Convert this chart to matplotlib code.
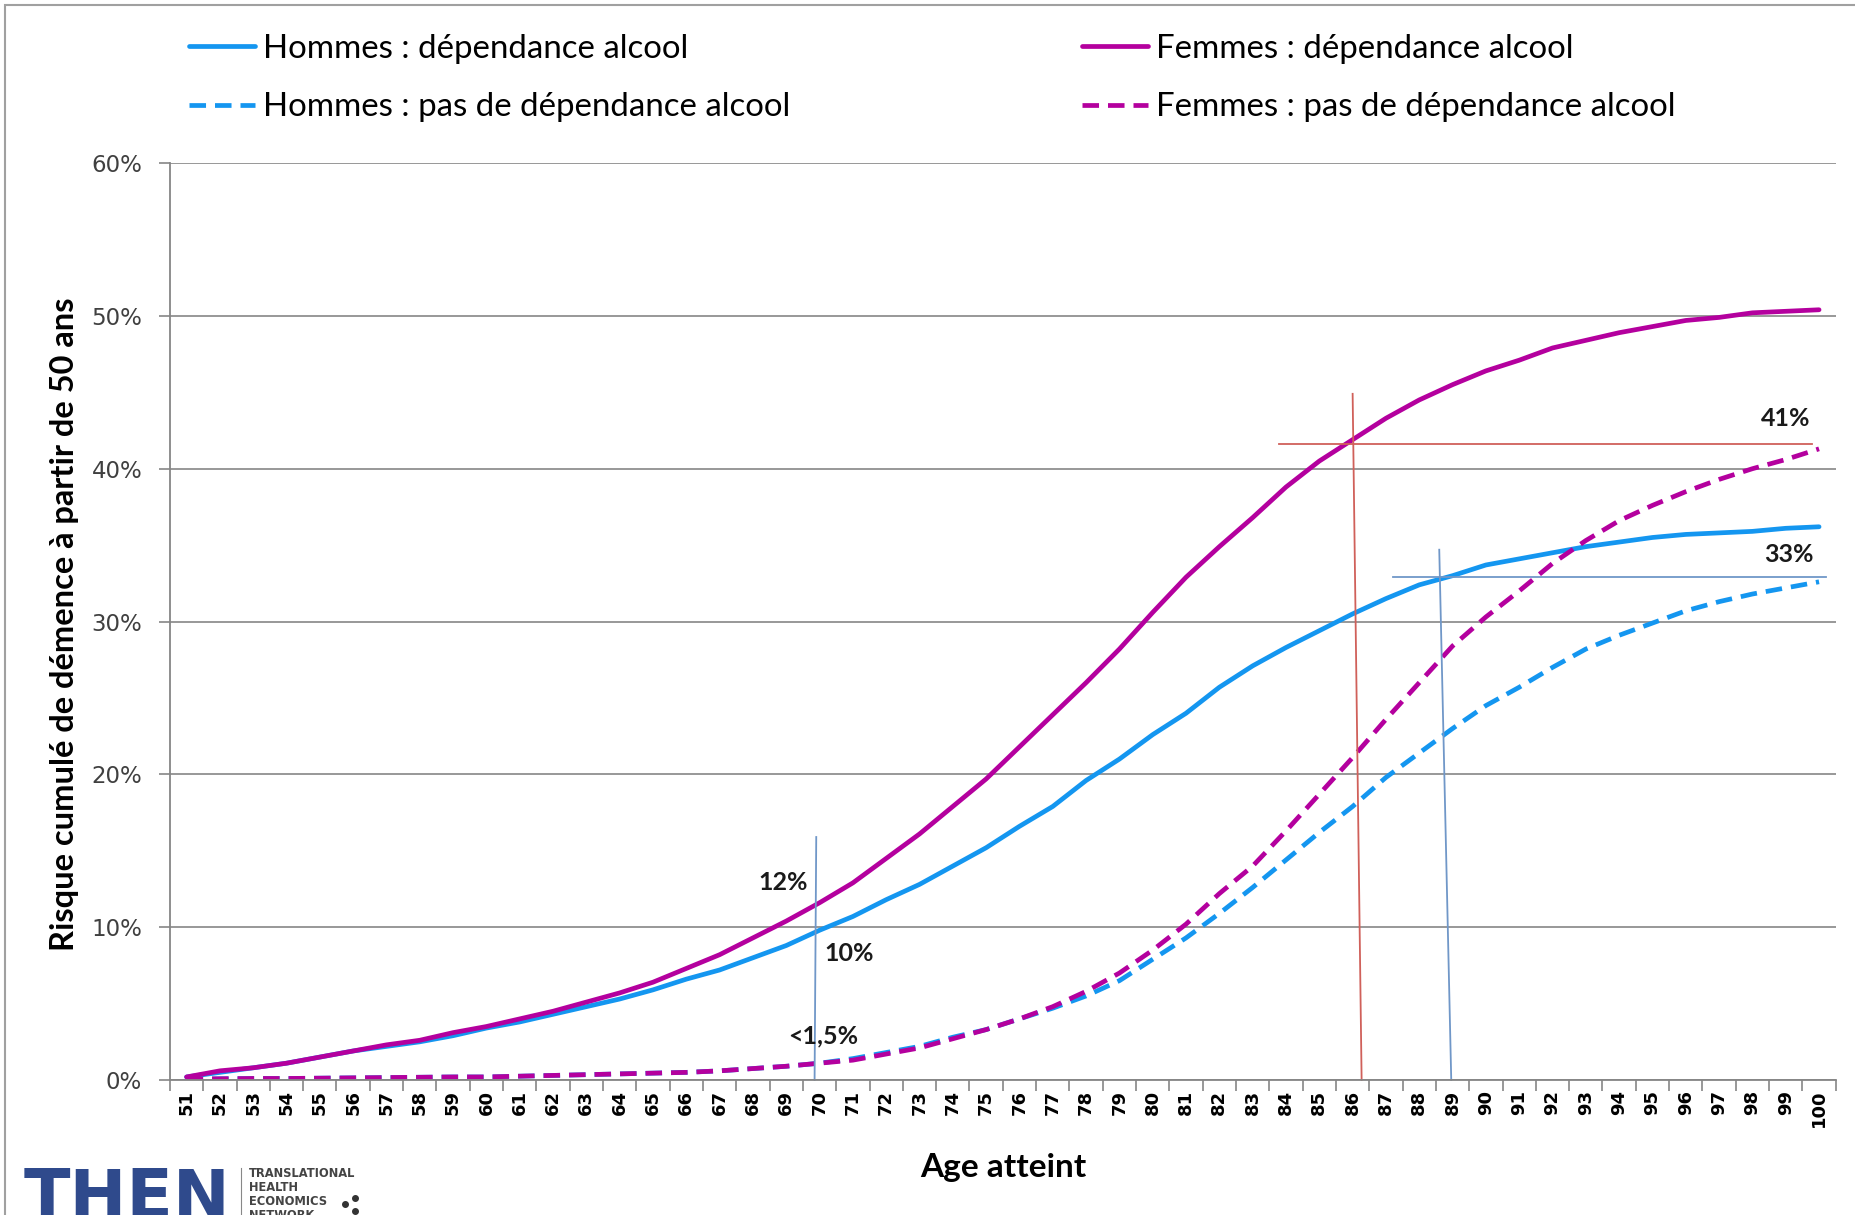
import matplotlib.pyplot as plt
from matplotlib.lines import Line2D
from matplotlib.patches import Rectangle

# data (percent)
ages = list(range(51, 101))
hommes_dep = [0.2, 0.5, 0.8, 1.1, 1.5, 1.9, 2.2, 2.5, 2.9, 3.4,
              3.8, 4.3, 4.8, 5.3, 5.9, 6.6, 7.2, 8.0, 8.8, 9.8,
              10.7, 11.8, 12.8, 14.0, 15.2, 16.6, 17.9, 19.6, 21.0, 22.6,
              24.0, 25.7, 27.1, 28.3, 29.4, 30.5, 31.5, 32.4, 33.0, 33.7,
              34.1, 34.5, 34.9, 35.2, 35.5, 35.7, 35.8, 35.9, 36.1, 36.2]
femmes_dep = [0.2, 0.6, 0.8, 1.1, 1.5, 1.9, 2.3, 2.6, 3.1, 3.5,
              4.0, 4.5, 5.1, 5.7, 6.4, 7.3, 8.2, 9.3, 10.4, 11.6,
              12.9, 14.5, 16.1, 17.9, 19.7, 21.8, 23.9, 26.0, 28.2, 30.6,
              32.9, 34.9, 36.8, 38.8, 40.5, 41.9, 43.3, 44.5, 45.5, 46.4,
              47.1, 47.9, 48.4, 48.9, 49.3, 49.7, 49.9, 50.2, 50.3, 50.4]
hommes_nodep = [0.05, 0.08, 0.1, 0.1, 0.12, 0.14, 0.16, 0.18, 0.2, 0.2,
                0.25, 0.3, 0.35, 0.4, 0.45, 0.5, 0.6, 0.75, 0.9, 1.1,
                1.4, 1.8, 2.2, 2.8, 3.3, 4.0, 4.7, 5.5, 6.5, 7.9,
                9.3, 10.9, 12.6, 14.4, 16.2, 17.9, 19.8, 21.4, 23.0, 24.5,
                25.7, 27.0, 28.2, 29.1, 29.9, 30.7, 31.3, 31.8, 32.2, 32.6]
femmes_nodep = [0.05, 0.08, 0.1, 0.1, 0.12, 0.14, 0.16, 0.18, 0.2, 0.2,
                0.25, 0.3, 0.35, 0.4, 0.45, 0.5, 0.6, 0.75, 0.9, 1.1,
                1.3, 1.7, 2.1, 2.7, 3.3, 4.0, 4.8, 5.8, 7.0, 8.5,
                10.2, 12.2, 14.0, 16.3, 18.7, 21.1, 23.6, 26.0, 28.4, 30.3,
                32.0, 33.8, 35.3, 36.6, 37.6, 38.5, 39.3, 40.0, 40.6, 41.3]
yticks = [0, 10, 20, 30, 40, 50, 60]

# annotation guide lines: (x0, x1), (y0, y1)
guide_blue_v70 = ([69.9, 69.85], [15.9, 0])
guide_red_v86 = ([86.0, 86.27], [44.9, 0])
guide_red_h41 = ([83.8, 99.8], [41.6, 41.6])
guide_blue_v89 = ([88.6, 88.96], [34.7, 0])
guide_blue_h33 = ([87.2, 100.2], [32.9, 32.9])
notes = [(68.9, 12.9, '12%'), (70.9, 8.3, '10%'), (70.1, 2.9, '<1,5%'),
         (99.0, 43.3, '41%'), (99.1, 34.4, '33%')]

blue = '#1496F0'
magenta = '#B4009E'
grey = '#868686'
dash = (0, (3.5, 1.9))

fig = plt.figure(figsize=(18.55, 12.15), dpi=100)
ax = fig.add_axes([0.0916, 0.1111, 0.898, 0.7547])

lw = 3.4
h1, = ax.plot(ages, hommes_dep, color=blue, lw=lw, solid_capstyle='round')
h3, = ax.plot(ages, hommes_nodep, color=blue, lw=lw, linestyle=dash)
h4, = ax.plot(ages, femmes_nodep, color=magenta, lw=lw, linestyle=dash)
h2, = ax.plot(ages, femmes_dep, color=magenta, lw=lw, solid_capstyle='round')

gb = '#7097C8'
gr = '#D0605A'
ax.plot(*guide_blue_v70, color=gb, lw=1.3, clip_on=False)
ax.plot(*guide_blue_v89, color=gb, lw=1.3, clip_on=False)
ax.plot(*guide_blue_h33, color=gb, lw=1.3, clip_on=False)
ax.plot(*guide_red_v86, color=gr, lw=1.3, clip_on=False)
ax.plot(*guide_red_h41, color=gr, lw=1.3, clip_on=False)

for x, y, t in notes:
    ax.text(x, y, t, ha='center', va='center', fontsize=18,
            fontweight='bold', family='Lato', color='#1a1a1a')

ax.set_xlim(50.5, 100.5)
ax.set_ylim(0, 60)
ax.set_xticks(ages)
ax.set_xticklabels([str(a) for a in ages], rotation=90, fontsize=13,
                   fontweight='bold', family='DejaVu Sans')
ax.set_xticks([a + 0.5 for a in range(50, 101)], minor=True)
ax.tick_params(axis='x', which='major', length=0, pad=7)
ax.tick_params(axis='x', which='minor', length=8, color=grey, width=1.2)
ax.set_yticks(yticks)
ax.set_yticklabels([f'{v}%' for v in yticks], fontsize=16.5,
                   family='DejaVu Sans', color='#404040')
ax.tick_params(axis='y', length=8, color=grey, width=1.2, pad=12)
ax.grid(axis='y', color=grey, lw=1.2)
ax.set_axisbelow(True)
for s in ['top', 'right']:
    ax.spines[s].set_visible(False)
for s in ['left', 'bottom']:
    ax.spines[s].set_color(grey)
    ax.spines[s].set_linewidth(1.3)

fig.text(65 / 1855, 0.486, 'Risque cumulé de démence à partir de 50 ans',
         rotation=90, ha='center', va='center', fontsize=23.5,
         fontweight='bold', family='Lato')
fig.text(1003 / 1855, 1 - 1168 / 1215, 'Age atteint', ha='center',
         va='center', fontsize=24, fontweight='bold', family='Lato')

leg_kw = dict(frameon=False, borderpad=0, borderaxespad=0, handlelength=2.0,
              handletextpad=0.25, labelspacing=0.85,
              prop={'family': 'Lato', 'size': 23.8})
fig.legend([h1, h3], ['Hommes : dépendance alcool',
                      'Hommes : pas de dépendance alcool'],
           loc='upper left', bbox_to_anchor=(189 / 1855, 1 - 34 / 1215), **leg_kw)
fig.legend([h2, h4], ['Femmes : dépendance alcool',
                      'Femmes : pas de dépendance alcool'],
           loc='upper left', bbox_to_anchor=(1082 / 1855, 1 - 34 / 1215), **leg_kw)

# outer frame
fig.patches.append(Rectangle((5 / 1855, -0.1), 1.2, 1.1 - 5 / 1215,
                             transform=fig.transFigure, fill=False,
                             edgecolor='#A0A0A0', lw=1.5))

# logo
fig.text(24 / 1855, 1 - 1166 / 1215, 'THEN', fontsize=49, fontweight='black',
         family='DejaVu Sans', color='#2F4A8C', va='top')
fig.lines.append(Line2D([241 / 1855, 241 / 1855], [0, 1 - 1168 / 1215],
                        transform=fig.transFigure, color='#888888', lw=0.8))
fig.text(249 / 1855, 1 - 1167 / 1215, 'TRANSLATIONAL\nHEALTH\nECONOMICS\nNETWORK',
         fontsize=8.3, fontweight='bold', family='DejaVu Sans', color='#444444',
         va='top', linespacing=1.1)
fig.lines.append(Line2D([345 / 1855, 355 / 1855, 355 / 1855],
                        [1 - 1204 / 1215, 1 - 1198 / 1215, 1 - 1211 / 1215],
                        transform=fig.transFigure, linestyle='none',
                        marker='o', markersize=4, color='#333333'))

fig.savefig('out.png', dpi=100)
